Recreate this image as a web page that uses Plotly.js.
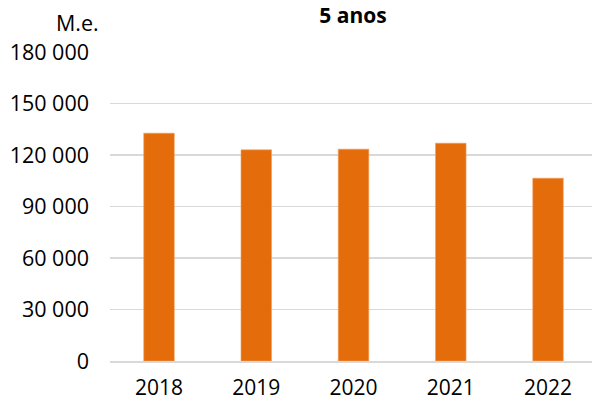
<!DOCTYPE html>
<html>
<head>
<meta charset="utf-8">
<script src="https://cdn.plot.ly/plotly-3.0.1.min.js"></script>
<style>html,body{margin:0;padding:0;background:#fff;}#chart{width:592px;height:401px;}</style>
</head>
<body>
<div id="chart"></div>
<script>
const years = ['2018', '2019', '2020', '2021', '2022'];
const values = [132700, 123000, 123400, 126900, 106500];
const yTickVals = [0, 30000, 60000, 90000, 120000, 150000, 180000];
const yTickText = ['0', '30 000', '60 000', '90 000', '120 000', '150 000', '180 000'];
const titleText = '5 anos';
const unitText = 'M.e.';

const font = 'Open Sans, Lato, sans-serif';
const data = [{
  type: 'bar',
  x: years,
  y: values,
  marker: {color: '#E46C0A', line: {color: '#F0A060', width: 0.6}},
  hoverinfo: 'x+y'
}];
const layout = {
  width: 592, height: 401,
  margin: {l: 110, r: 0, t: 52, b: 40, pad: 0},
  paper_bgcolor: '#ffffff', plot_bgcolor: '#ffffff',
  bargap: 0.686,
  showlegend: false,
  font: {family: font, size: 21.5, color: '#000000'},
  title: {text: '<b>' + titleText + '</b>', x: 353/592, xanchor: 'center', y: 1 - 16/401, yanchor: 'middle',
          font: {family: font, size: 21, color: '#000000'}},
  xaxis: {
    type: 'category', range: [-0.504, 4.452],
    showgrid: false, zeroline: false,
    showline: true, linecolor: '#d9d9d9', linewidth: 1.5,
    ticks: '', ticklabelstandoff: 7,
    tickfont: {family: font, size: 21, color: '#000000'}
  },
  yaxis: {
    range: [0, 180000], tickvals: yTickVals, ticktext: yTickText,
    showgrid: true, gridcolor: '#d9d9d9', gridwidth: 1.5,
    zeroline: false, showline: false, ticks: '',
    ticklabelstandoff: 20,
    tickfont: {family: font, size: 21.5, color: '#000000'}
  },
  annotations: [{
    text: unitText, xref: 'paper', yref: 'paper',
    x: (101 - 110) / 482, xanchor: 'right',
    y: 1 + (52.3 - 23) / 308.4, yanchor: 'middle',
    showarrow: false, font: {family: font, size: 21.5, color: '#000000'}
  }]
};
Plotly.newPlot('chart', data, layout, {displayModeBar: false, staticPlot: true});
</script>
</body>
</html>
